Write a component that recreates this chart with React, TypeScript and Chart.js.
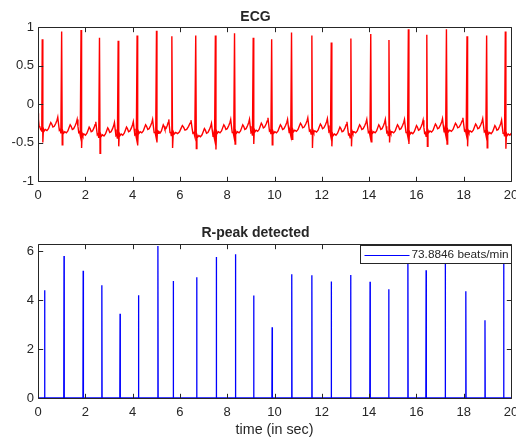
import { useEffect, useRef } from "react";
import { Chart, registerables } from "chart.js";

Chart.register(...registerables);

// ---------- data ----------
const xTickValues = [0, 2, 4, 6, 8, 10, 12, 14, 16, 18, 20];
const ecgYTickValues = [-1, -0.5, 0, 0.5, 1];
const peakYTickValues = [0, 2, 4, 6];

const ecgTitle = "ECG";
const peakTitle = "R-peak detected";
const xAxisTitle = "time (in sec)";
const legendLabel = "73.8846 beats/min";

// ECG R-wave times (s) and amplitudes
const ecgRTimes = [0.18, 1.0, 1.82, 2.6, 3.39, 4.19, 5.01, 5.66, 6.67, 7.5, 8.31, 9.1, 9.88, 10.72, 11.58, 12.4, 13.23, 14.07, 14.84, 15.66, 16.44, 17.27, 18.14, 18.97, 19.76];
const ecgRAmps = [0.84, 0.94, 0.96, 0.86, 0.82, 0.89, 0.95, 0.88, 0.89, 0.89, 0.92, 0.86, 0.84, 0.93, 0.89, 0.8, 0.85, 0.91, 0.83, 0.97, 0.9, 0.97, 0.88, 0.89, 0.94];
// S-wave minimum after each R
const ecgSAmps = [-0.5, -0.53, -0.57, -0.64, -0.55, -0.54, -0.5, -0.57, -0.58, -0.59, -0.52, -0.52, -0.53, -0.46, -0.57, -0.55, -0.55, -0.49, -0.5, -0.52, -0.55, -0.52, -0.55, -0.57, -0.58];
// ST / baseline level after each beat
const ecgSTLevels = [-0.34, -0.37, -0.4, -0.41, -0.4, -0.37, -0.37, -0.38, -0.42, -0.37, -0.37, -0.35, -0.37, -0.35, -0.36, -0.4, -0.37, -0.37, -0.37, -0.38, -0.36, -0.35, -0.36, -0.38, -0.4];
// signal before the first beat: [time, value]
const ecgLeadIn: [number, number][] = [[0, -0.12], [0.02, -0.2], [0.05, -0.29], [0.08, -0.3], [0.11, -0.33], [0.14, -0.32], [0.16, -0.36]];
// beat shape between two R waves: phase in the R-R interval and offset from the ST level
const beatPhases = [0.06, 0.1, 0.16, 0.24, 0.32, 0.38, 0.44, 0.49, 0.55, 0.62, 0.7, 0.76, 0.8, 0.84, 0.88, 0.92, 0.96];
const beatShape = [0.02, -0.01, 0.01, -0.005, 0.02, 0.06, 0.1, 0.08, 0.04, 0.05, 0.09, 0.13, 0.17, 0.08, 0.0, 0.01, -0.04];
const sPhase = 0.03;
const lastRR = 0.8;

// detected R peaks (bottom panel)
const peakTimes = [0.28, 1.1, 1.91, 2.7, 3.47, 4.25, 5.07, 5.72, 6.71, 7.54, 8.35, 9.12, 9.9, 10.73, 11.58, 12.4, 13.22, 14.04, 14.83, 15.64, 16.41, 17.22, 18.09, 18.9, 19.69];
const peakAmps = [4.41, 5.81, 5.21, 4.61, 3.45, 4.2, 6.22, 4.79, 4.94, 5.77, 5.88, 4.19, 2.89, 5.06, 5.02, 4.77, 5.03, 4.76, 4.45, 6.3, 5.23, 5.7, 4.37, 3.18, 5.75];
const peakYMax = 6.3;

// ---------- series built from the arrays ----------
function buildEcg() {
  const pts: { x: number; y: number }[] = [];
  ecgLeadIn.forEach(([t, v]) => pts.push({ x: t, y: v }));
  ecgRTimes.forEach((t0, i) => {
    const rr = i < ecgRTimes.length - 1 ? ecgRTimes[i + 1] - t0 : lastRR;
    pts.push({ x: t0, y: ecgRAmps[i] });
    pts.push({ x: t0 + sPhase * rr, y: ecgSAmps[i] });
    beatPhases.forEach((p, k) => {
      pts.push({ x: t0 + p * rr, y: ecgSTLevels[i] + beatShape[k] });
    });
  });
  return pts;
}

function buildPeaks() {
  const pts: { x: number; y: number }[] = [{ x: 0, y: 0 }];
  peakTimes.forEach((t, i) => {
    pts.push({ x: t - 0.01, y: 0 }, { x: t, y: peakAmps[i] }, { x: t + 0.01, y: 0 });
  });
  pts.push({ x: 20, y: 0 });
  return pts;
}

const FONT = "'Liberation Sans', Arial, Helvetica, sans-serif";
const AX = "#262626";

const axesPlugin = {
  id: "matlabAxes",
  afterDraw(chart: any) {
    const { ctx, chartArea } = chart;
    const { left, right, top, bottom } = chartArea;
    const xs = chart.scales.x;
    const ys = chart.scales.y;
    const tl = 4.7;
    ctx.save();
    ctx.strokeStyle = AX;
    ctx.lineWidth = 1;
    ctx.beginPath();
    const L = Math.round(left) + 0.5;
    const R = Math.round(right) + 0.5;
    const T = Math.round(top) + 0.5;
    const B = Math.round(bottom) + 0.5;
    ctx.rect(L, T, R - L, B - T);
    xs.ticks.forEach((tk: any) => {
      const px = Math.round(xs.getPixelForValue(tk.value)) + 0.5;
      ctx.moveTo(px, B);
      ctx.lineTo(px, B - tl);
      ctx.moveTo(px, T);
      ctx.lineTo(px, T + tl);
    });
    ys.ticks.forEach((tk: any) => {
      const py = Math.round(ys.getPixelForValue(tk.value)) + 0.5;
      ctx.moveTo(L, py);
      ctx.lineTo(L + tl, py);
      ctx.moveTo(R, py);
      ctx.lineTo(R - tl, py);
    });
    ctx.stroke();
    ctx.restore();
  },
};

const legendPlugin = {
  id: "insetLegend",
  afterDraw(chart: any) {
    const { ctx, chartArea } = chart;
    const boxRight = Math.round(chartArea.right) + 0.5;
    const boxLeft = boxRight - 151;
    const boxTop = Math.round(chartArea.top) + 1.5;
    const boxH = 18;
    ctx.save();
    ctx.fillStyle = "#ffffff";
    ctx.fillRect(boxLeft, boxTop, boxRight - boxLeft, boxH);
    ctx.strokeStyle = AX;
    ctx.lineWidth = 1;
    ctx.strokeRect(boxLeft, boxTop, boxRight - boxLeft, boxH);
    const cy = boxTop + boxH / 2;
    ctx.beginPath();
    ctx.strokeStyle = "#0000ff";
    ctx.lineWidth = 1.2;
    ctx.moveTo(boxLeft + 4, Math.round(cy) + 0.5);
    ctx.lineTo(boxLeft + 49, Math.round(cy) + 0.5);
    ctx.stroke();
    ctx.fillStyle = AX;
    ctx.font = `11.8px ${FONT}`;
    ctx.textAlign = "left";
    ctx.textBaseline = "middle";
    ctx.fillText(legendLabel, boxLeft + 51, cy + 0.5);
    ctx.restore();
  },
};

function zeroPadding(s: any) {
  s.paddingLeft = 0;
  s.paddingRight = 0;
  s.paddingTop = 0;
  s.paddingBottom = 0;
}

function makeConfig(opts: {
  points: { x: number; y: number }[];
  color: string;
  width: number;
  yMin: number;
  yMax: number;
  yTicks: number[];
  title: string;
  titleTop: number;
  titleBlock: number;
  xHeight: number;
  xTitle?: string;
  extra?: any[];
}) {
  return {
    type: "line" as const,
    data: {
      datasets: [
        {
          data: opts.points,
          borderColor: opts.color,
          borderWidth: opts.width,
          pointRadius: 0,
          fill: false,
          tension: 0,
        },
      ],
    },
    options: {
      responsive: false,
      animation: false as const,
      parsing: false as const,
      normalized: true,
      events: [],
      layout: { padding: { left: 0, right: 5, top: 0, bottom: 0 }, autoPadding: false },
      plugins: {
        legend: { display: false },
        tooltip: { enabled: false },
        title: {
          display: true,
          text: opts.title,
          color: AX,
          font: { family: FONT, size: 14, weight: "bold" as const, lineHeight: 1 },
          padding: { top: opts.titleTop, bottom: opts.titleBlock - 14 - opts.titleTop },
        },
      },
      scales: {
        x: {
          type: "linear" as const,
          min: 0,
          max: 20,
          grid: { display: false, drawTicks: false },
          border: { display: false },
          afterBuildTicks: (s: any) => {
            s.ticks = xTickValues.map((v) => ({ value: v }));
          },
          afterFit: (s: any) => {
            s.height = opts.xHeight;
            zeroPadding(s);
          },
          ticks: {
            color: AX,
            font: { family: FONT, size: 13 },
            padding: 7,
            maxRotation: 0,
            autoSkip: false,
            callback: (v: any) => String(v),
          },
          title: opts.xTitle
            ? {
                display: true,
                text: opts.xTitle,
                color: AX,
                font: { family: FONT, size: 14.3, lineHeight: 1 },
                padding: { top: 0, bottom: 2 },
              }
            : { display: false },
        },
        y: {
          type: "linear" as const,
          min: opts.yMin,
          max: opts.yMax,
          grid: { display: false, drawTicks: false },
          border: { display: false },
          afterBuildTicks: (s: any) => {
            s.ticks = opts.yTicks.map((v) => ({ value: v }));
          },
          afterFit: (s: any) => {
            s.width = 38;
            zeroPadding(s);
          },
          ticks: {
            color: AX,
            font: { family: FONT, size: 13 },
            padding: 4,
            autoSkip: false,
            callback: (v: any) => String(v),
          },
        },
      },
    },
    plugins: [axesPlugin, ...(opts.extra || [])],
  };
}

export default function App() {
  const topRef = useRef<HTMLCanvasElement>(null);
  const botRef = useRef<HTMLCanvasElement>(null);

  useEffect(() => {
    const top = new Chart(
      topRef.current as HTMLCanvasElement,
      makeConfig({
        points: buildEcg(),
        color: "#ff0000",
        width: 1.4,
        yMin: -1,
        yMax: 1,
        yTicks: ecgYTickValues,
        title: ecgTitle,
        titleTop: 9.7,
        titleBlock: 27,
        xHeight: 34,
      }) as any
    );
    const bot = new Chart(
      botRef.current as HTMLCanvasElement,
      makeConfig({
        points: buildPeaks(),
        color: "#0000ff",
        width: 1.3,
        yMin: 0,
        yMax: peakYMax,
        yTicks: peakYTickValues,
        title: peakTitle,
        titleTop: 11.5,
        titleBlock: 29,
        xHeight: 41,
        xTitle: xAxisTitle,
        extra: [legendPlugin],
      }) as any
    );
    return () => {
      top.destroy();
      bot.destroy();
    };
  }, []);

  return (
    <div style={{ position: "fixed", left: 0, top: 0, width: 516, height: 439, background: "#ffffff" }}>
      <canvas ref={topRef} width={516} height={215} style={{ position: "absolute", left: 0, top: 0, display: "block" }} />
      <canvas ref={botRef} width={516} height={224} style={{ position: "absolute", left: 0, top: 215, display: "block" }} />
    </div>
  );
}
